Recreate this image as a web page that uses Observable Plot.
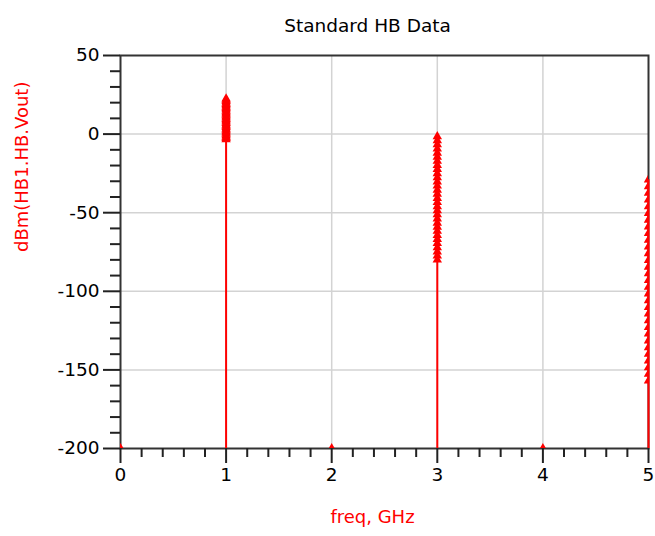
<!DOCTYPE html>
<html>
<head>
<meta charset="utf-8">
<script src="https://cdn.jsdelivr.net/npm/d3@7"></script>
<script src="https://cdn.jsdelivr.net/npm/@observablehq/plot@0.6"></script>
<style>
  body { margin: 0; background: white; }
</style>
</head>
<body>
<div id="chart"></div>
<script>
const title = "Standard HB Data";
const xLabel = "freq, GHz";
const yLabel = "dBm(HB1.HB.Vout)";

// harmonic frequencies (GHz)
const harmonicFreqs = [1, 3, 5];
// power-sweep values (dBm)
const fundamental = [-3.5, -2.6, -1.8, -0.9, 0.0, 0.8, 1.7, 2.6, 3.4, 4.3, 5.2, 6.0, 6.9, 7.8, 8.6, 9.5, 10.4, 11.2, 12.1, 13.0, 13.8, 14.7, 15.6, 16.4, 17.3, 18.2, 19.0, 19.9, 20.8, 21.6, 22.5];
const third = [-80.0, -77.4, -74.8, -72.2, -69.5, -66.9, -64.3, -61.7, -59.1, -56.5, -53.8, -51.2, -48.6, -46.0, -43.4, -40.8, -38.1, -35.5, -32.9, -30.3, -27.7, -25.1, -22.4, -19.8, -17.2, -14.6, -12.0, -9.4, -6.7, -4.1, -1.5];
const fifth = [-157.0, -152.7, -148.5, -144.2, -139.9, -135.7, -131.4, -127.1, -122.9, -118.6, -114.3, -110.1, -105.8, -101.5, -97.3, -93.0, -88.7, -84.5, -80.2, -75.9, -71.7, -67.4, -63.1, -58.9, -54.6, -50.3, -46.1, -41.8, -37.5, -33.3, -29.0];
// even harmonics / DC sit at the floor
const floorFreqs = [0, 2, 4];
const floorValues = [-200, -200, -200];

const xTicks = [0, 1, 2, 3, 4, 5];
const xMinorTicks = [0.2, 0.4, 0.6, 0.8, 1.2, 1.4, 1.6, 1.8, 2.2, 2.4, 2.6, 2.8, 3.2, 3.4, 3.6, 3.8, 4.2, 4.4, 4.6, 4.8];
const yTicks = [-200, -150, -100, -50, 0, 50];
const yMinorTicks = [-190, -180, -170, -160, -140, -130, -120, -110, -90, -80, -70, -60, -40, -30, -20, -10, 10, 20, 30, 40];
const xGrid = [1, 2, 3, 4];
const yGrid = [-150, -100, -50, 0];

const series = [fundamental, third, fifth];
const points = [];
series.forEach((vals, i) => vals.forEach(v => points.push({f: harmonicFreqs[i], v})));
floorFreqs.forEach((f, i) => points.push({f, v: floorValues[i]}));
const stems = series.map((vals, i) => ({f: harmonicFreqs[i], top: d3.max(vals)}));

const red = "#ff0000";
const font = "DejaVu Sans, Verdana, sans-serif";

const chart = Plot.plot({
  width: 655,
  height: 536,
  marginLeft: 120,
  marginRight: 7,
  marginTop: 55,
  marginBottom: 88,
  style: {fontFamily: font, fontSize: "18px", background: "white", color: "black", overflow: "visible"},
  x: {domain: [0, 5]},
  y: {domain: [-200, 50]},
  marks: [
    Plot.gridX(xGrid, {stroke: "#d3d3d3", strokeOpacity: 1, strokeWidth: 1.5}),
    Plot.gridY(yGrid, {stroke: "#d3d3d3", strokeOpacity: 1, strokeWidth: 1.5}),
    Plot.frame({stroke: "#333", strokeWidth: 2}),
    Plot.axisX({ticks: xTicks, tickSize: 15, tickPadding: 4, fontSize: 18.5, stroke: "#222", strokeWidth: 2, label: null, tickFormat: d => String(d)}),
    Plot.axisX({ticks: xMinorTicks, tickSize: 9, text: null, stroke: "#222", strokeWidth: 2, label: null}),
    Plot.axisY({ticks: yTicks, tickSize: 17, tickPadding: 4, fontSize: 18.5, stroke: "#222", strokeWidth: 2, label: null, tickFormat: d => String(d)}),
    Plot.axisY({ticks: yMinorTicks, tickSize: 10, text: null, stroke: "#222", strokeWidth: 2, label: null}),
    Plot.ruleX(stems, {x: "f", y1: -200, y2: "top", stroke: red, strokeWidth: 2}),
    Plot.dot(points, {x: "f", y: "v", symbol: "triangle", fill: red, r: 3.5, clip: true}),
    Plot.text([title], {frameAnchor: "top", dy: -37, dx: -17, fontSize: 18.5, fill: "black"}),
    Plot.text([xLabel], {frameAnchor: "bottom", dy: 74, dx: -12, fontSize: 18, fill: red}),
    Plot.text([yLabel], {frameAnchor: "left", dx: -98, rotate: -90, fontSize: 18, fill: red})
  ]
});
document.getElementById("chart").appendChild(chart);
</script>
</body>
</html>
